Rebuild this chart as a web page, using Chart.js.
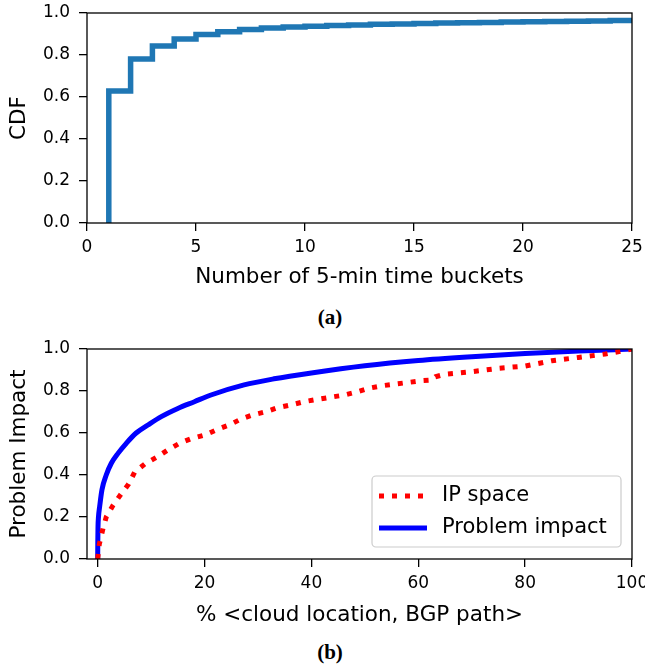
<!DOCTYPE html>
<html>
<head>
<meta charset="utf-8">
<script src="https://cdn.jsdelivr.net/npm/chart.js@4.4.1/dist/chart.umd.min.js"></script>
<style>
  body { margin: 0; background: #fff; }
  #wrap { position: relative; width: 645px; height: 667px; overflow: hidden; }
  canvas { position: absolute; left: 0; }
  #c1 { top: 0; }
  #c2 { top: 336px; }
  .cap { position: absolute; width: 60px; left: 300px; text-align: center;
         font: bold 21px "Liberation Serif", "DejaVu Serif", serif; color: #000; }
</style>
</head>
<body>
<div id="wrap">
  <canvas id="c1" width="645" height="300"></canvas>
  <canvas id="c2" width="645" height="300"></canvas>
  <div class="cap" style="top:305px">(a)</div>
  <div class="cap" style="top:640px">(b)</div>
</div>
<script>
// (a) CDF of number of 5-min time buckets
var buckets = [1, 2, 3, 4, 5, 6, 7, 8, 9, 10, 11, 12, 13, 14, 15, 16, 17, 18, 19, 20, 21, 22, 23, 24, 25];
var cdfVals = [0.628, 0.781, 0.843, 0.876, 0.898, 0.911, 0.921, 0.928, 0.933, 0.937, 0.940, 0.943, 0.946,
               0.948, 0.950, 0.952, 0.954, 0.955, 0.957, 0.958, 0.960, 0.961, 0.962, 0.964, 0.966];
var xTicksA = [0, 5, 10, 15, 20, 25];
var yTicks = [0, 0.2, 0.4, 0.6, 0.8, 1.0];

// (b) problem impact vs % <cloud location, BGP path>
var ipX = [0, 0.3, 1.0, 1.6, 2.9, 4.4, 5.8, 6.9, 8.9, 11, 13.1, 15.3, 17.5, 20, 22.4, 24.6, 26.8, 29, 31.3,
           33.6, 36.1, 38.6, 41.1, 43.5, 46, 48.4, 50.7, 53.2, 55.7, 58.2, 60.6, 62.5, 63.2, 65, 70, 75, 80,
           85, 90, 95, 98, 100];
var ipY = [0, 0.07, 0.146, 0.2, 0.257, 0.31, 0.357, 0.413, 0.454, 0.484, 0.519, 0.551, 0.573, 0.59, 0.617,
           0.638, 0.666, 0.686, 0.70, 0.72, 0.733, 0.749, 0.76, 0.77, 0.78, 0.795, 0.813, 0.825, 0.833, 0.841,
           0.849, 0.852, 0.868, 0.88, 0.892, 0.908, 0.919, 0.944, 0.96, 0.976, 0.99, 1.0];
var impX = [0, 0.02, 0.06, 0.15, 0.37, 0.8, 1.6, 2.55, 3.8, 5.35, 7.2, 9.4, 11.9, 15, 18.1, 21.2, 27.4,
            33, 40, 50, 60, 70, 80, 90, 100];
var impY = [0, 0.08, 0.154, 0.2, 0.25, 0.33, 0.40, 0.456, 0.503, 0.551, 0.60, 0.638, 0.678, 0.717, 0.749,
            0.781, 0.829, 0.858, 0.886, 0.92, 0.945, 0.963, 0.978, 0.99, 1.0];
var xTicksB = [0, 20, 40, 60, 80, 100];

var FONT = '"DejaVu Sans", sans-serif';

function pts(xs, ys) {
  return xs.map(function(x, i) { return {x: x, y: ys[i]}; });
}

// box around the plot like matplotlib spines
var frame = {
  id: 'frame',
  afterDatasetsDraw: function(chart) {
    var a = chart.chartArea, ctx = chart.ctx;
    ctx.save();
    ctx.strokeStyle = '#000';
    ctx.lineWidth = 1.3;
    ctx.strokeRect(a.left, a.top, a.right - a.left, a.bottom - a.top);
    ctx.restore();
  }
};

// legend in the lower right corner of the plot
var boxLegend = {
  id: 'boxLegend',
  afterDraw: function(chart) {
    var a = chart.chartArea, ctx = chart.ctx;
    var w = 249, h = 71, x0 = a.right - 11 - w, y0 = a.bottom - 12 - h;
    ctx.save();
    ctx.fillStyle = 'rgba(255,255,255,0.8)';
    ctx.strokeStyle = '#cccccc';
    ctx.lineWidth = 1.2;
    ctx.beginPath();
    ctx.roundRect(x0, y0, w, h, 4);
    ctx.fill();
    ctx.stroke();
    ctx.font = '21px ' + FONT;
    ctx.textBaseline = 'middle';
    ctx.fillStyle = '#000';
    chart.data.datasets.forEach(function(ds, i) {
      var yy = y0 + 20 + i * 32;
      ctx.beginPath();
      ctx.strokeStyle = ds.borderColor;
      ctx.lineWidth = ds.borderWidth;
      ctx.setLineDash(ds.borderDash || []);
      ctx.moveTo(x0 + 7, yy);
      ctx.lineTo(x0 + 55, yy);
      ctx.stroke();
      ctx.setLineDash([]);
      ctx.fillText(ds.label, x0 + 70, yy);
    });
    ctx.restore();
  }
};

function xScale(min, max, ticks, title, titlePad) {
  return {
    type: 'linear', min: min, max: max,
    afterBuildTicks: function(s) { s.ticks = ticks.map(function(v) { return {value: v}; }); },
    afterFit: function(s) { s.height = 77; s.paddingLeft = 0; s.paddingRight = 0; },
    grid: { drawOnChartArea: false, drawTicks: true, tickLength: 8, color: '#000', lineWidth: 1.3 },
    border: { display: false },
    ticks: { color: '#000', font: { family: FONT, size: 17 }, padding: 6, maxRotation: 0, autoSkip: false },
    title: { display: true, text: title, color: '#000', font: { family: FONT, size: 21.5 },
             padding: { top: 0, bottom: titlePad } }
  };
}

function yScale(title) {
  return {
    type: 'linear', min: 0, max: 1,
    afterBuildTicks: function(s) { s.ticks = yTicks.map(function(v) { return {value: v}; }); },
    afterFit: function(s) { s.width = 87; s.paddingTop = 0; s.paddingBottom = 0; },
    grid: { drawOnChartArea: false, drawTicks: true, tickLength: 8, color: '#000', lineWidth: 1.3 },
    border: { display: false },
    ticks: { color: '#000', font: { family: FONT, size: 17 }, padding: 9,
             callback: function(v) { return v.toFixed(1); } },
    title: { display: true, text: title, color: '#000', font: { family: FONT, size: 21.5 },
             padding: { top: 7, bottom: 0 } }
  };
}

var common = {
  responsive: false,
  animation: false,
  layout: { padding: { top: 13, right: 13, left: 0, bottom: 0 } },
  plugins: { legend: { display: false }, tooltip: { enabled: false } },
  elements: { point: { radius: 0 } }
};

new Chart(document.getElementById('c1').getContext('2d'), {
  type: 'line',
  data: {
    datasets: [{
      label: 'CDF',
      data: [{x: buckets[0], y: 0}].concat(pts(buckets, cdfVals)),
      stepped: 'before',
      borderColor: '#1f77b4',
      borderWidth: 5.5,
      fill: false
    }]
  },
  options: Object.assign({}, common, {
    scales: { x: xScale(0, 25, xTicksA, 'Number of 5-min time buckets', 10), y: yScale('CDF') }
  }),
  plugins: [frame]
});

new Chart(document.getElementById('c2').getContext('2d'), {
  type: 'line',
  data: {
    datasets: [{
      label: 'IP space',
      data: pts(ipX, ipY),
      borderColor: '#ff0000',
      borderWidth: 5,
      borderDash: [5, 8],
      borderCapStyle: 'butt',
      tension: 0,
      fill: false
    }, {
      label: 'Problem impact',
      data: pts(impX, impY),
      borderColor: '#0000ff',
      borderWidth: 5,
      cubicInterpolationMode: 'monotone',
      fill: false
    }]
  },
  options: Object.assign({}, common, {
    scales: { x: xScale(-2, 100, xTicksB, '% <cloud location, BGP path>', 8), y: yScale('Problem Impact') }
  }),
  plugins: [frame, boxLegend]
});
</script>
</body>
</html>
